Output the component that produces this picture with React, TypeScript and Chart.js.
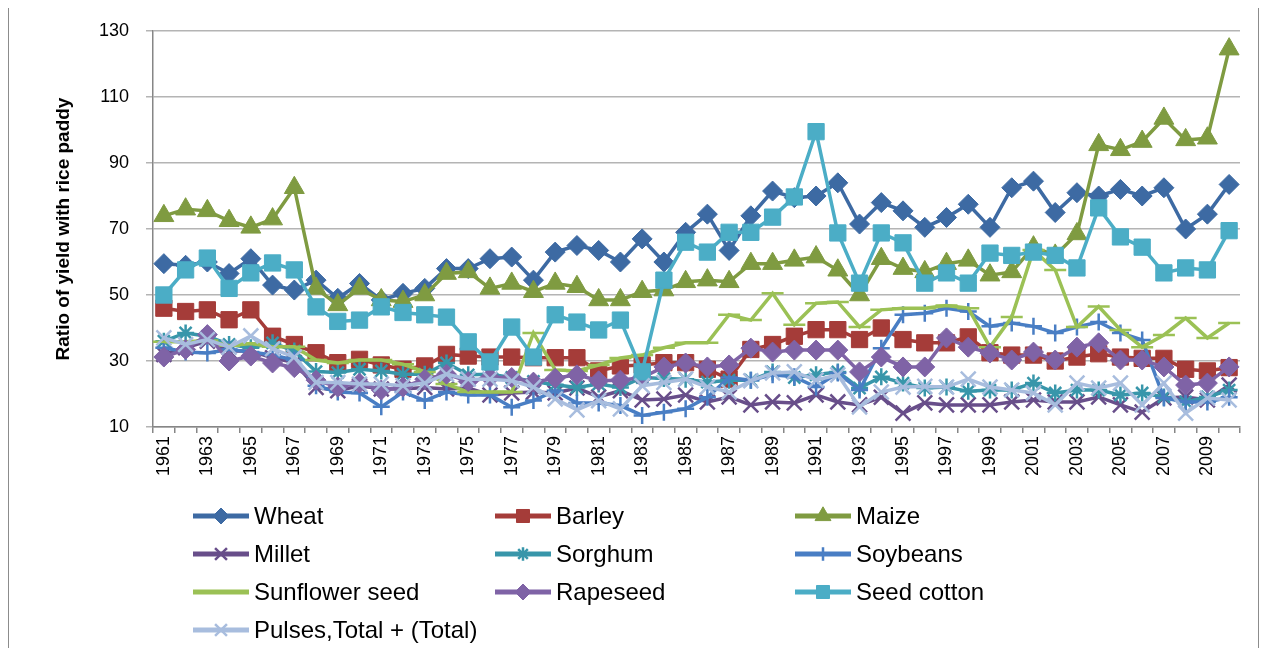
import React, { useEffect, useRef } from 'react';
import { Chart, registerables } from 'chart.js';
import { drawPoint } from 'chart.js/helpers';

Chart.register(...registerables);

const years = [
  '1961', '1962', '1963', '1964', '1965', '1966', '1967', '1968', '1969', '1970',
  '1971', '1972', '1973', '1974', '1975', '1976', '1977', '1978', '1979', '1980',
  '1981', '1982', '1983', '1984', '1985', '1986', '1987', '1988', '1989', '1990',
  '1991', '1992', '1993', '1994', '1995', '1996', '1997', '1998', '1999', '2000',
  '2001', '2002', '2003', '2004', '2005', '2006', '2007', '2008', '2009', '2010',
];

const yTicks = [10, 30, 50, 70, 90, 110, 130];

const wheat = [
  59.5, 59, 60, 56.5, 61, 53, 51.5, 54.5, 49, 53.5,
  48.5, 50.5, 52, 58, 58, 61, 61.5, 54.5, 63, 65,
  63.5, 60, 67, 60, 69, 74.5, 63.5, 74, 81.5, 79.5,
  80, 84, 71.5, 78, 75.5, 70.5, 73.5, 77.5, 70.5, 82.5,
  84.5, 75, 81, 80, 82, 80, 82.5, 70, 74.5, 83.5,
];
const barley = [
  46, 45, 45.5, 42.5, 45.5, 37.5, 35, 32.5, 29.5, 30.5,
  28.8, 27.5, 28.5, 32, 31.5, 31.2, 31.2, 31, 31, 31,
  27, 28.5, 28.8, 29.5, 29.5, 27.5, 24.5, 33.5, 35, 37.5,
  39.5, 39.5, 36.5, 40, 36.5, 35.5, 35.5, 37.3, 32.5, 31.8,
  31.8, 30, 31.2, 32.2, 31.2, 30.8, 30.8, 27.5, 27, 28,
];
const maize = [
  74, 76, 75.5, 72.5, 70.5, 73, 82.5, 52, 47, 52,
  48.5, 48, 50, 56.5, 57, 52, 53.5, 51, 53.5, 52.5,
  48.5, 48.5, 51, 51.5, 54, 54.5, 54, 59.5, 59.5, 60.5,
  61.5, 57.5, 50, 61, 58, 57, 59.5, 60.5, 56, 57,
  64.5, 62, 68.5, 95.5, 94, 96.5, 103.5, 97, 97.5, 124.5,
];
const millet = [
  32, 34, 36, 33, 33, 31, 29.5, 22, 21, 22.5,
  21.5, 21.5, 22, 21.5, 21.8, 19.7, 20.3, 20.6, 20.3, 21.8,
  19.1, 21, 18.2, 18.5, 19.7, 17.6, 19.1, 16.7, 17.6, 17.3,
  19.7, 17.6, 16.7, 19, 14.2, 17.3, 16.7, 16.7, 16.7, 17.6,
  18.2, 17.6, 17.6, 19.1, 16.7, 14.5, 18.8, 19.1, 18.2, 22.7,
];
const sorghum = [
  36, 38.5, 37.5, 35, 34, 35.5, 33, 26.8, 26.5, 27.5,
  27, 26, 26, 29.4, 25.8, 26, 25, 23.8, 22.8, 22,
  23, 22, 25, 24.7, 24.5, 23.6, 24.2, 24.2, 26.7, 25,
  25.8, 26.7, 21.8, 25.2, 23.3, 21.8, 22.1, 20.8, 21.2, 21.2,
  23.3, 20.3, 21.2, 21.2, 19.7, 20.3, 19.1, 17.6, 19.1, 21.2,
];
const soybeans = [
  34, 32.7, 32.4, 33.5, 32.7, 31.8, 30.3, 22.5, 20.6, 20.3,
  16.1, 20.6, 18, 20.6, 19.7, 19.7, 16, 18, 21, 17.3,
  17.3, 16.5, 13.5, 14.5, 15.5, 19, 25, 24.2, 25.8, 25.2,
  22.1, 26.4, 21.2, 33.9, 44, 44.5, 46, 45, 40.5, 41.5,
  40.5, 38.5, 40.3, 41.8, 38.5, 36.4, 18.8, 17.6, 17.6, 19,
];
const sunflower = [
  35.8, 35.8, 36.2, 34.6, 35.3, 34.3, 34.3, 30.3, 29.4, 30.3,
  30.3, 29, 26.7, 23, 20.6, 20.6, 20.6, 38.5, 27.3, 27,
  28.8, 30.9, 31.8, 34, 35.5, 35.5, 44, 42.4, 50.5, 41,
  47.5, 47.9, 40.3, 45.5, 46, 46, 46.8, 46, 34.2, 43.3,
  63.6, 57.6, 40.3, 46.5, 39.4, 34.2, 37.9, 43, 37, 41.5,
];
const rapeseed = [
  31.2, 33.5, 38, 30, 31.5, 29.4, 28, 24.2, 22.1, 23.3,
  21.2, 22.1, 24.5, 26, 23.8, 25, 25, 23.6, 24.8, 25.8,
  24, 24.2, 25, 28.2, 29.4, 28.2, 28.8, 33.9, 32.7, 33.3,
  33.3, 33.3, 26.7, 31.2, 28.2, 28.2, 37, 34.2, 32.4, 30.3,
  32.7, 30.3, 34.2, 35.5, 30.3, 30.3, 28.2, 22.7, 23.3, 28.2,
];
const seedCotton = [
  50, 57.6, 61.2, 52, 56.7, 59.7, 57.6, 46.4, 42, 42.4,
  46.4, 44.7, 44, 43.3, 35.8, 29.7, 40.3, 31.2, 44, 41.8,
  39.4, 42.4, 26.7, 54.5, 66, 63, 69, 69, 73.6, 79.7,
  99.5, 68.8, 53.6, 68.8, 65.8, 53.6, 56.7, 53.6, 62.7, 62,
  63, 62, 58.2, 76.4, 67.6, 64.5, 56.7, 58.2, 57.6, 69.5,
];
const pulses = [
  37, 35, 36.5, 34.2, 37.6, 33.7, 31.2, 23.5, 23.5, 23,
  23, 22.5, 23.3, 26, 24.5, 24.5, 24, 22.1, 18.5, 15.2,
  18, 15.5, 22.5, 23.5, 24.5, 22.1, 20.6, 24, 26.4, 26.7,
  24.2, 25.8, 16.1, 20.6, 22.1, 22.3, 22.1, 24.5, 22.1, 21.2,
  20.3, 16.7, 23.3, 21.8, 23.3, 16.7, 23.3, 14.2, 18.8, 18.2,
];

const seriesNames = [
  'Wheat', 'Barley', 'Maize', 'Millet', 'Sorghum', 'Soybeans',
  'Sunflower seed', 'Rapeseed', 'Seed cotton', 'Pulses,Total + (Total)',
];
const seriesData = [wheat, barley, maize, millet, sorghum, soybeans, sunflower, rapeseed, seedCotton, pulses];
const seriesColors = [
  '#3D6AA3', '#A53C39', '#7F9B41', '#684E8A', '#3896AA', '#497EC4',
  '#9BC155', '#7F63A6', '#4BADC6', '#A8BDDE',
];
const seriesMarkers = ['rectRot', 'rect', 'triangle', 'crossRot', 'star', 'cross', 'line', 'rectRot', 'rect', 'crossRot'];
const seriesMarkerSize = [10, 11.5, 11.5, 10.5, 8.5, 8.5, 11, 10, 11.5, 10.5];

const FONT = "'Liberation Sans', Arial, sans-serif";

const legendPlugin = {
  id: 'columnLegend',
  afterDraw(chart: any) {
    const ctx = chart.ctx;
    const cols = [184, 486, 786];
    const top = 508;
    const rowH = 38;
    chart.data.datasets.forEach((ds: any, i: number) => {
      const x = cols[i % 3];
      const y = top + Math.floor(i / 3) * rowH;
      ctx.save();
      ctx.strokeStyle = ds.borderColor;
      ctx.lineWidth = 5;
      ctx.beginPath();
      ctx.moveTo(x, y);
      ctx.lineTo(x + 56, y);
      ctx.stroke();
      ctx.fillStyle = ds.pointBackgroundColor;
      ctx.strokeStyle = ds.pointBorderColor;
      ctx.lineWidth = ds.pointBorderWidth;
      drawPoint(ctx, {
        pointStyle: ds.pointStyle,
        radius: ds.pointRadius * 0.8,
        rotation: 0,
        borderWidth: ds.pointBorderWidth,
      } as any, x + 28, y);
      ctx.fillStyle = '#000';
      ctx.font = `24px ${FONT}`;
      ctx.textBaseline = 'middle';
      ctx.textAlign = 'left';
      ctx.fillText(ds.label, x + 61, y + 1);
      ctx.restore();
    });
  },
};

export default function App() {
  const ref = useRef<HTMLCanvasElement>(null);
  useEffect(() => {
    if (!ref.current) return;
    const stroked = ['crossRot', 'star', 'cross', 'line'];
    const chart = new Chart(ref.current, {
      type: 'line',
      data: {
        labels: years,
        datasets: seriesNames.map((name, i) => ({
          label: name,
          data: seriesData[i],
          borderColor: seriesColors[i],
          backgroundColor: seriesColors[i],
          borderWidth: 3.5,
          pointStyle: seriesMarkers[i] as any,
          pointRadius: seriesMarkerSize[i],
          pointHoverRadius: seriesMarkerSize[i],
          pointBackgroundColor: seriesColors[i],
          pointBorderColor: seriesColors[i],
          pointBorderWidth: stroked.includes(seriesMarkers[i]) ? 2.5 : 1,
          tension: 0,
          fill: false,
          order: 20 - i,
        })),
      },
      options: {
        animation: false,
        responsive: false,
        devicePixelRatio: 1,
        layout: { padding: { left: 43, right: 18, top: 23, bottom: 141 } },
        plugins: {
          legend: { display: false },
          tooltip: { enabled: false },
        },
        scales: {
          x: {
            type: 'category',
            offset: true,
            grid: {
              offset: true,
              drawOnChartArea: false,
              drawTicks: true,
              tickLength: 6,
              color: '#868686',
              lineWidth: 1.5,
            },
            border: { color: '#868686', width: 1.5 },
            ticks: {
              autoSkip: false,
              maxRotation: 90,
              minRotation: 90,
              padding: 3,
              color: '#000',
              font: { family: FONT, size: 18 },
              callback: (_v: any, idx: number) => (idx % 2 === 0 ? years[idx] : ''),
            },
            afterFit: (scale: any) => { scale.height = 80; },
          },
          y: {
            min: 10,
            max: 130,
            afterBuildTicks: (scale: any) => { scale.ticks = yTicks.map((v) => ({ value: v })); },
            grid: { color: '#B4B4B4', lineWidth: 1.5, tickLength: 7, drawTicks: true },
            border: { color: '#868686', width: 1.5 },
            ticks: {
              padding: 17,
              color: '#000',
              font: { family: FONT, size: 18 },
            },
            title: {
              display: true,
              text: 'Ratio of yield with rice paddy',
              color: '#000',
              font: { family: FONT, size: 19, weight: 'bold' },
              padding: { top: 0, bottom: 0 },
            },
            afterFit: (scale: any) => {
              scale.width = 101;
              scale.paddingTop = 0;
              scale.paddingBottom = 0;
            },
          },
        },
      },
      plugins: [legendPlugin],
    });
    return () => chart.destroy();
  }, []);

  return (
    <div style={{ width: 1251, height: 640, boxSizing: 'border-box', borderLeft: '1px solid #8c8c8c', borderRight: '1px solid #8c8c8c', background: '#fff' }}>
      <canvas ref={ref} width={1249} height={640} style={{ display: 'block' }} />
    </div>
  );
}
